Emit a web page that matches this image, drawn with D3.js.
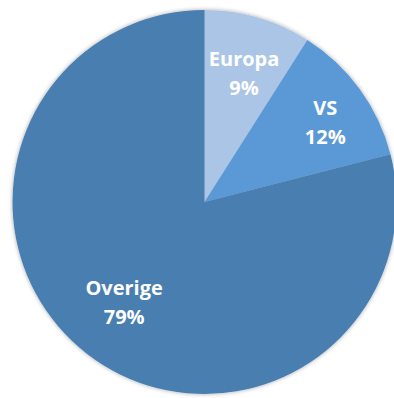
<!DOCTYPE html>
<html><head><meta charset="utf-8">
<script src="https://cdn.jsdelivr.net/npm/d3@7"></script>
<style>html,body{margin:0;padding:0;background:#fff;overflow:hidden}</style>
</head><body>
<svg id="chart" width="394" height="398"></svg>
<script>
const categories = ["Europa", "VS", "Overige"];
const values = [9, 12, 79];
const labels = ["9%", "12%", "79%"];
const colors = ["#ABC5E6", "#5A99D5", "#4A7EB0"];

// layout: label placement (radius fraction of R, angle nudge in degrees)
const labelLayout = {
  "Europa": { r: 0.705, da: 0.8 },
  "VS": { r: 0.755, da: 2.4 },
  "Overige": { r: 0.668, da: 1.0 }
};

const cx = 204.5, cy = 202, R = 192;
const svg = d3.select("#chart");
const defs = svg.append("defs");
const f = defs.append("filter").attr("id", "sh").attr("x", "-10%").attr("y", "-10%").attr("width", "120%").attr("height", "120%");
f.append("feDropShadow").attr("dx", 0).attr("dy", 0).attr("stdDeviation", 2).attr("flood-color", "#000").attr("flood-opacity", 0.35);

const g = svg.append("g").attr("transform", `translate(${cx},${cy})`);
const pie = d3.pie().sort(null).value(d => d)(values);
const arc = d3.arc().innerRadius(0).outerRadius(R);
const color = d3.scaleOrdinal().domain(categories).range(colors);

g.append("g").attr("filter", "url(#sh)")
  .selectAll("path").data(pie).join("path")
  .attr("d", arc)
  .attr("fill", (d, i) => color(categories[i]));

const lg = g.selectAll("g.lab").data(pie).join("g").attr("class", "lab")
  .attr("transform", (d, i) => {
    const L = labelLayout[categories[i]];
    const a = (d.startAngle + d.endAngle) / 2 + L.da * Math.PI / 180;
    const r = R * L.r;
    return `translate(${r * Math.sin(a)},${-r * Math.cos(a)})`;
  });
lg.append("text").attr("text-anchor", "middle").attr("y", -7)
  .style("font-family", "'Open Sans', sans-serif").style("font-weight", 700).style("font-size", "20px").attr("fill", "#fff")
  .text((d, i) => categories[i]);
lg.append("text").attr("text-anchor", "middle").attr("y", 22)
  .style("font-family", "'Open Sans', sans-serif").style("font-weight", 700).style("font-size", "20px").attr("fill", "#fff")
  .text((d, i) => labels[i]);
</script>
</body></html>
